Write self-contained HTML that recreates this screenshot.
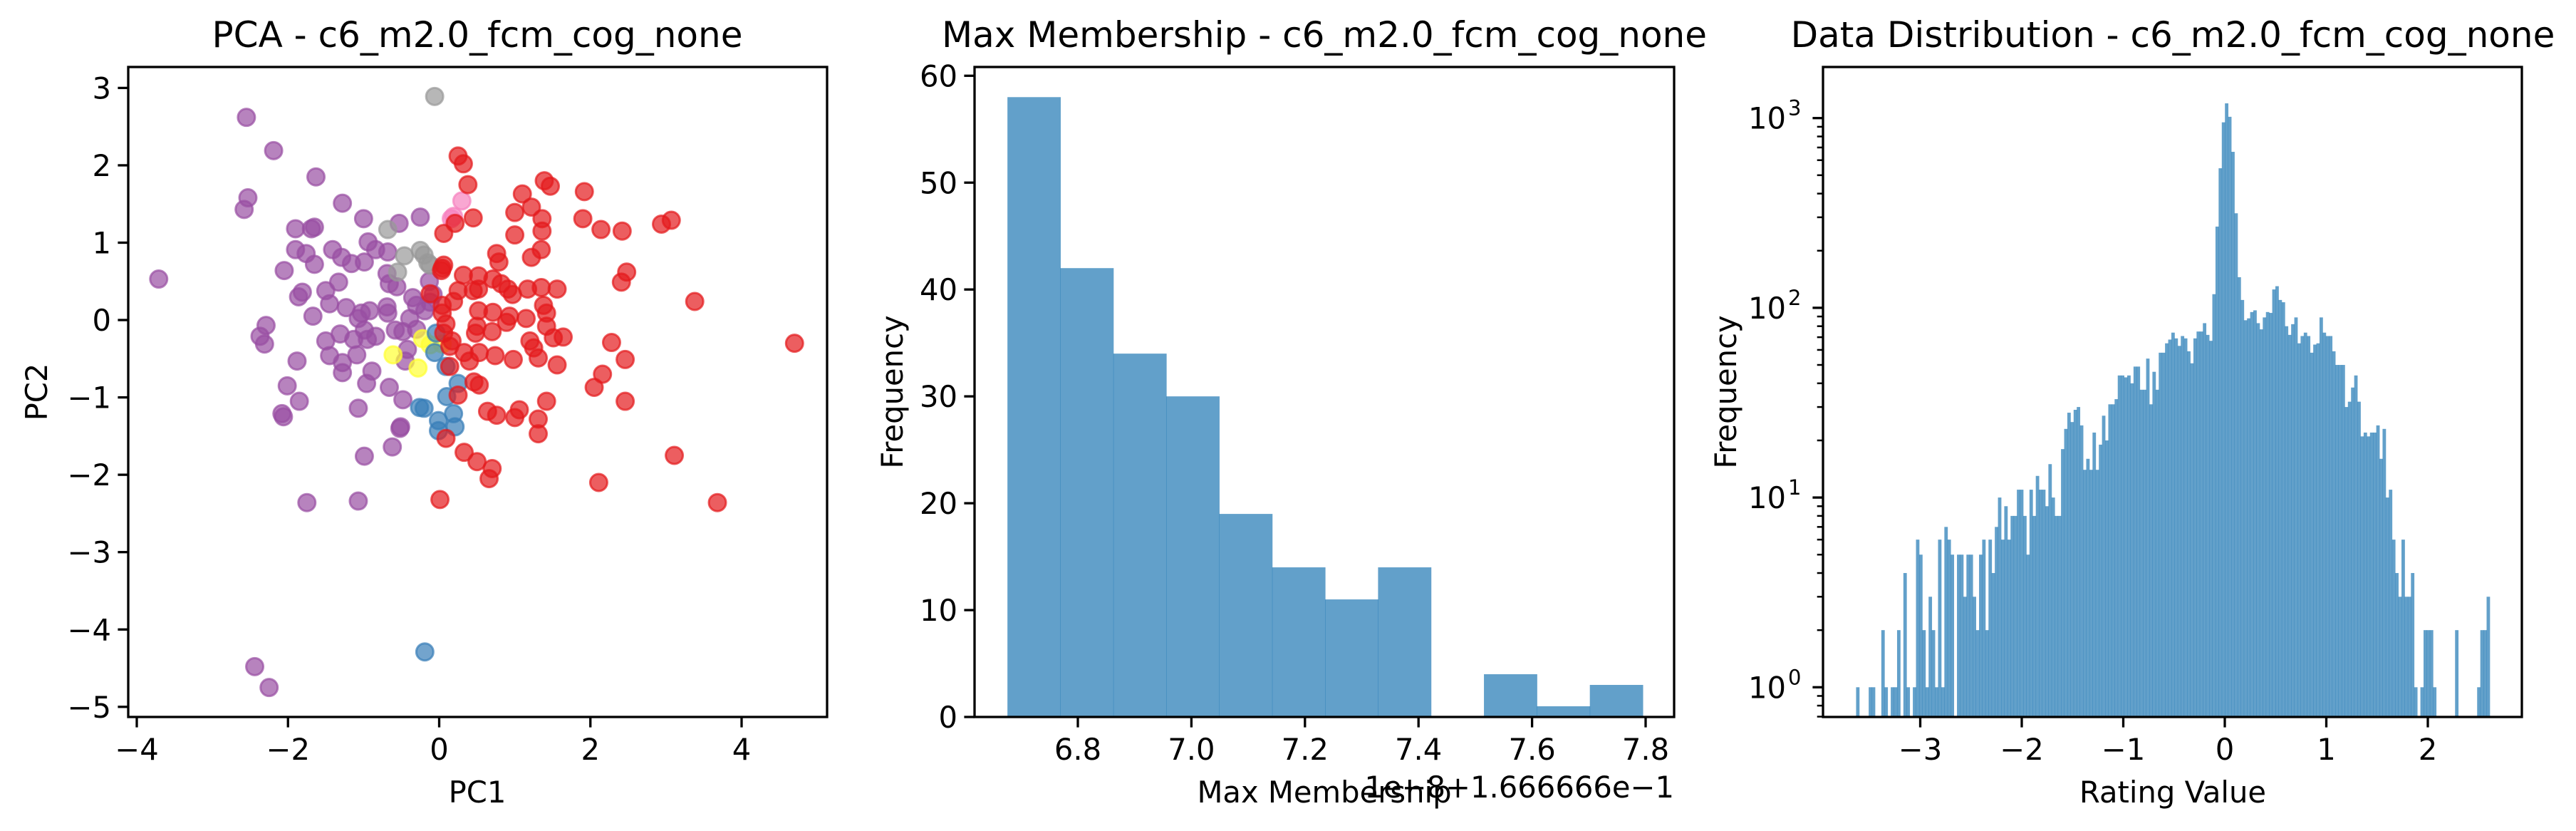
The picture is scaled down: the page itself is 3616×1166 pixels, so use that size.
<!DOCTYPE html>
<html><head><meta charset="utf-8">
<style>
html,body{margin:0;padding:0;background:#fff;}
svg{display:block;font-family:"DejaVu Sans","Liberation Sans",sans-serif;}
</style></head>
<body>
<svg id="fig" width="3616" height="1166" viewBox="0 0 3616 1166" xmlns="http://www.w3.org/2000/svg">
<rect x="0" y="0" width="3616" height="1166" fill="#fff"/>
<g id="p1"></g>
<g id="p2"></g>
<g id="p3"></g>
</svg>
<script>
// ---------- PCA scatter data ----------
const clusterPurple = [[-2.55,2.62],[-2.19,2.19],[-1.63,1.85],[-2.53,1.58],[-2.58,1.43],[-1.28,1.51],[-1.00,1.31],[-0.53,1.25],[-0.25,1.33],[-1.90,1.18],[-1.69,1.18],[-1.65,1.20],[-0.94,1.01],[-0.84,0.91],[-0.68,0.88],[-1.90,0.91],[-1.76,0.86],[-1.65,0.72],[-1.41,0.91],[-1.29,0.81],[-1.16,0.73],[-0.99,0.75],[-2.05,0.64],[-0.69,0.60],[-0.66,0.47],[-0.56,0.43],[-1.33,0.49],[-1.81,0.36],[-1.86,0.30],[-1.50,0.38],[-1.45,0.21],[-1.23,0.16],[-1.03,0.09],[-0.92,0.12],[-1.07,0.02],[-1.67,0.05],[-2.29,-0.07],[-2.37,-0.21],[-2.31,-0.31],[-0.69,0.17],[-0.68,0.09],[-0.35,0.29],[-0.30,0.19],[-0.39,0.02],[-0.13,0.50],[-0.08,0.33],[-0.30,-0.12],[-0.48,-0.15],[-0.58,-0.13],[-0.84,-0.21],[-0.99,-0.13],[-0.95,-0.25],[-1.13,-0.25],[-1.31,-0.18],[-1.50,-0.27],[-1.45,-0.46],[-1.28,-0.55],[-1.28,-0.68],[-1.09,-0.45],[-0.89,-0.66],[-0.96,-0.82],[-1.88,-0.53],[-2.01,-0.85],[-1.85,-1.05],[-2.08,-1.21],[-2.06,-1.25],[-1.07,-1.14],[-0.66,-0.87],[-0.48,-1.03],[-0.51,-1.38],[-0.52,-1.40],[-0.62,-1.64],[-0.99,-1.76],[-1.75,-2.36],[-1.07,-2.34],[-0.45,-0.53],[-0.42,-0.38],[-3.71,0.53],[-2.44,-4.48],[-2.25,-4.75],[-0.19,0.12],[-0.12,0.23]];
const clusterGray = [[-0.06,2.89],[-0.68,1.17],[-0.46,0.83],[-0.25,0.90],[-0.20,0.84],[-0.15,0.74],[-0.12,0.71],[-0.55,0.62]];
const clusterYellow = [[-0.61,-0.45],[-0.28,-0.62],[-0.22,-0.24],[-0.12,-0.32],[0.04,-0.31]];
const clusterBlue = [[-0.19,-4.29],[-0.04,-0.17],[-0.06,-0.42],[0.09,-0.60],[0.25,-0.82],[0.10,-0.99],[-0.26,-1.13],[-0.20,-1.14],[0.19,-1.21],[-0.01,-1.30],[-0.01,-1.43],[0.21,-1.38]];
const clusterPink = [[0.30,1.54],[0.19,1.34],[0.16,1.31]];
const clusterRed = [[0.25,2.12],[0.32,2.02],[0.38,1.75],[1.39,1.80],[1.47,1.73],[1.10,1.63],[1.22,1.46],[1.00,1.39],[1.92,1.66],[0.45,1.32],[0.21,1.25],[0.06,1.12],[1.36,1.31],[1.36,1.15],[1.00,1.10],[1.90,1.31],[2.14,1.17],[2.42,1.15],[2.94,1.24],[3.07,1.29],[0.76,0.86],[0.79,0.75],[1.35,0.91],[1.22,0.81],[0.06,0.71],[0.03,0.64],[0.32,0.58],[0.52,0.57],[0.71,0.53],[0.82,0.47],[0.91,0.40],[0.97,0.33],[1.17,0.40],[1.35,0.42],[1.56,0.40],[2.48,0.62],[2.41,0.49],[0.52,0.40],[0.45,0.38],[0.25,0.38],[-0.12,0.34],[0.04,0.19],[0.19,0.24],[0.04,0.09],[0.09,-0.05],[0.52,0.12],[0.71,0.10],[0.93,0.05],[1.15,0.02],[1.38,0.19],[1.42,0.09],[0.89,-0.03],[0.50,-0.08],[0.48,-0.17],[0.70,-0.15],[0.06,-0.17],[0.17,-0.27],[0.14,-0.34],[0.33,-0.42],[0.53,-0.42],[0.40,-0.53],[0.14,-0.60],[1.20,-0.27],[1.25,-0.36],[1.31,-0.49],[1.42,-0.08],[1.51,-0.23],[1.64,-0.22],[2.28,-0.29],[0.74,-0.46],[0.98,-0.51],[1.56,-0.58],[2.46,-0.51],[2.16,-0.70],[2.05,-0.87],[0.46,-0.80],[0.53,-0.84],[0.25,-0.97],[1.42,-1.05],[2.46,-1.05],[0.64,-1.18],[0.76,-1.23],[1.06,-1.16],[1.00,-1.26],[1.31,-1.28],[1.31,-1.47],[0.09,-1.53],[0.33,-1.71],[0.50,-1.83],[0.70,-1.92],[0.66,-2.05],[0.01,-2.32],[2.11,-2.10],[3.11,-1.75],[3.68,-2.36],[3.38,0.24],[4.70,-0.30],[0.04,0.67]];
const pcaXTicks = [-4,-2,0,2,4];
const pcaYTicks = [-5,-4,-3,-2,-1,0,1,2,3];

// ---------- Max membership histogram ----------
const memCounts = [58,42,34,30,19,14,11,14,0,4,1,3];
const memStart = 6.676;
const memEnd = 7.795;
const memXTicks = [6.8,7.0,7.2,7.4,7.6,7.8];
const memYTicks = [0,10,20,30,40,50,60];

// ---------- Rating distribution histogram ----------
const ratingStart = -3.632;
const ratingEnd = 2.610;
const ratingCounts = [1,0,0,0,1,1,0,0,2,1,0,1,1,2,0,4,1,0,1,6,5,2,1,3,2,1,6,1,7,6,5,0,5,5,3,5,5,3,2,5,6,2,6,4,7,10,6,9,6,8,8,11,11,8,5,11,8,13,11,11,9,15,10,8,8,18,23,28,25,29,30,24,14,16,14,22,14,19,27,20,31,31,33,44,44,43,44,40,49,49,37,37,54,31,46,37,58,58,65,68,74,69,63,71,69,59,51,69,75,75,83,72,67,118,268,544,950,1196,1016,664,315,145,110,86,88,95,97,83,77,89,95,94,125,130,110,107,80,72,82,89,65,71,74,71,58,64,65,89,74,71,71,59,50,50,50,30,32,38,44,32,21,22,21,22,22,24,16,23,10,11,6,4,3,6,3,3,4,1,0,1,2,2,2,1,0,0,0,0,0,0,2,0,0,0,0,0,0,1,2,2,3];
const ratingXTicks = [-3,-2,-1,0,1,2];
const ratingYDecades = [0,1,2,3];

const NS = "http://www.w3.org/2000/svg";
function mk(parent, tag, attrs, text){
  const e = document.createElementNS(NS, tag);
  for (const k in attrs) e.setAttribute(k, attrs[k]);
  if (text !== undefined) e.textContent = text;
  parent.appendChild(e);
  return e;
}
function lin(d0,d1,r0,r1){ return v => r0 + (v-d0)*(r1-r0)/(d1-d0); }
const TOP = 94, BOT = 1006, FS = 41.7, TFS = 50, MIDY = 550;

function frame(g, L, R, name){
  const f = mk(g,'rect',{x:L,y:TOP,width:R-L,height:BOT-TOP,fill:'none',stroke:'#000','stroke-width':3.3});
  
  
}
function title(g, cx, txt, name){
  const t = mk(g,'text',{x:cx,y:66,'font-size':TFS,'text-anchor':'middle',fill:'#000'},txt);
  
  
}
function xTick(g, x, label){
  const l = mk(g,'line',{x1:x,x2:x,y1:BOT,y2:BOT+14.6,stroke:'#000','stroke-width':3.3});
  
  
  const t = mk(g,'text',{x:x,y:BOT+60,'font-size':FS,'text-anchor':'middle',fill:'#000'},label);
  
  
}
function yTick(g, L, y, label){
  const l = mk(g,'line',{x1:L-14.6,x2:L,y1:y,y2:y,stroke:'#000','stroke-width':3.3});
  
  
  if (label !== null){
    const t = mk(g,'text',{x:L-24,y:y+15,'font-size':FS,'text-anchor':'end',fill:'#000'},label);
    
    
  }
}
function fmt(v){ return (v<0?'\u2212':'') + Math.abs(v); }

// ===== Panel 1: PCA =====
(function(){
  const g = document.getElementById('p1');
  const L=180, R=1161;
  const sx = lin(-4,4,192,1041);
  const sy = lin(-5,3,991.8,123.4);
  title(g, 670, 'PCA - c6_m2.0_fcm_cog_none', 'pca-title');
  const groups = [[clusterPurple,'#984ea3','purple'],[clusterGray,'#999999','gray'],[clusterYellow,'#ffff33','yellow'],[clusterBlue,'#377eb8','blue'],[clusterPink,'#f781bf','pink'],[clusterRed,'#e41a1c','red']];
  groups.forEach(([pts,col,nm])=>{
    pts.forEach(p=>{
      const c = mk(g,'circle',{cx:sx(p[0]),cy:sy(p[1]),r:12,fill:col,'fill-opacity':0.7,stroke:col,'stroke-opacity':0.7,'stroke-width':3});
      
      
    });
  });
  frame(g, L, R, 'pca');
  pcaXTicks.forEach(v=>xTick(g, sx(v), fmt(v)));
  pcaYTicks.forEach(v=>yTick(g, L, sy(v), fmt(v)));
  const xl = mk(g,'text',{x:670,y:1126,'font-size':FS,'text-anchor':'middle'},'PC1');
  
  
  const yl = mk(g,'text',{x:0,y:0,'font-size':FS,'text-anchor':'middle',transform:'translate(66,'+MIDY+') rotate(-90)'},'PC2');
  
  
})();

// ===== Panel 2: Max Membership =====
(function(){
  const g = document.getElementById('p2');
  const L=1368, R=2350;
  const sx = lin(6.8,7.8,1513,2310);
  const sy = lin(0,60,1006,106.3);
  title(g, 1859, 'Max Membership - c6_m2.0_fcm_cog_none', 'membership-title');
  const w = (memEnd-memStart)/memCounts.length;
  memCounts.forEach((c,i)=>{
    if (c<=0) return;
    const x0 = sx(memStart+i*w), x1 = sx(memStart+(i+1)*w);
    const b = mk(g,'rect',{x:x0,y:sy(c),width:x1-x0+0.5,height:sy(0)-sy(c),fill:'#1f77b4','fill-opacity':0.7});
    
    
  });
  frame(g, L, R, 'membership');
  memXTicks.forEach(v=>xTick(g, sx(v), v.toFixed(1)));
  memYTicks.forEach(v=>yTick(g, L, sy(v), String(v)));
  const xl = mk(g,'text',{x:1859,y:1126,'font-size':FS,'text-anchor':'middle'},'Max Membership');
  
  
  const off = mk(g,'text',{x:R,y:1119,'font-size':FS,'text-anchor':'end'},'1e\u22128+1.666666e\u22121');
  
  
  const yl = mk(g,'text',{x:0,y:0,'font-size':FS,'text-anchor':'middle',transform:'translate(1267,'+MIDY+') rotate(-90)'},'Frequency');
  
  
})();

// ===== Panel 3: Data Distribution (log) =====
(function(){
  const g = document.getElementById('p3');
  const L=2559, R=3540;
  const sx = lin(-3,2,2695.5,3408);
  const sy = v => 964.3 - Math.log10(v)*266.2;
  title(g, 3050, 'Data Distribution - c6_m2.0_fcm_cog_none', 'distribution-title');
  const w = (ratingEnd-ratingStart)/ratingCounts.length;
  ratingCounts.forEach((c,i)=>{
    if (c<=0) return;
    const x0 = sx(ratingStart+i*w), x1 = sx(ratingStart+(i+1)*w);
    const b = mk(g,'rect',{x:x0,y:sy(c),width:x1-x0+0.4,height:BOT-sy(c),fill:'#1f77b4','fill-opacity':0.7});
    
    
  });
  frame(g, L, R, 'distribution');
  ratingXTicks.forEach(v=>xTick(g, sx(v), fmt(v)));
  ratingYDecades.forEach(d=>{
    const y = sy(Math.pow(10,d));
    yTick(g, L, y, null);
    const t = mk(g,'text',{x:L-52,y:y+15,'font-size':FS,'text-anchor':'end'},'10');
    
    
    const s = mk(g,'text',{x:L-49,y:y-4,'font-size':29,'text-anchor':'start'},String(d));
    
    
  });
  for (let d=-1; d<=3; d++){
    for (let m=2; m<=9; m++){
      const v = m*Math.pow(10,d);
      const y = sy(v);
      if (y<TOP || y>BOT) continue;
      const l = mk(g,'line',{x1:L-8.3,x2:L,y1:y,y2:y,stroke:'#000','stroke-width':2.5});
      
      
    }
  }
  const xl = mk(g,'text',{x:3050,y:1126,'font-size':FS,'text-anchor':'middle'},'Rating Value');
  
  
  const yl = mk(g,'text',{x:0,y:0,'font-size':FS,'text-anchor':'middle',transform:'translate(2437,'+MIDY+') rotate(-90)'},'Frequency');
  
  
})();
</script>
</body></html>
